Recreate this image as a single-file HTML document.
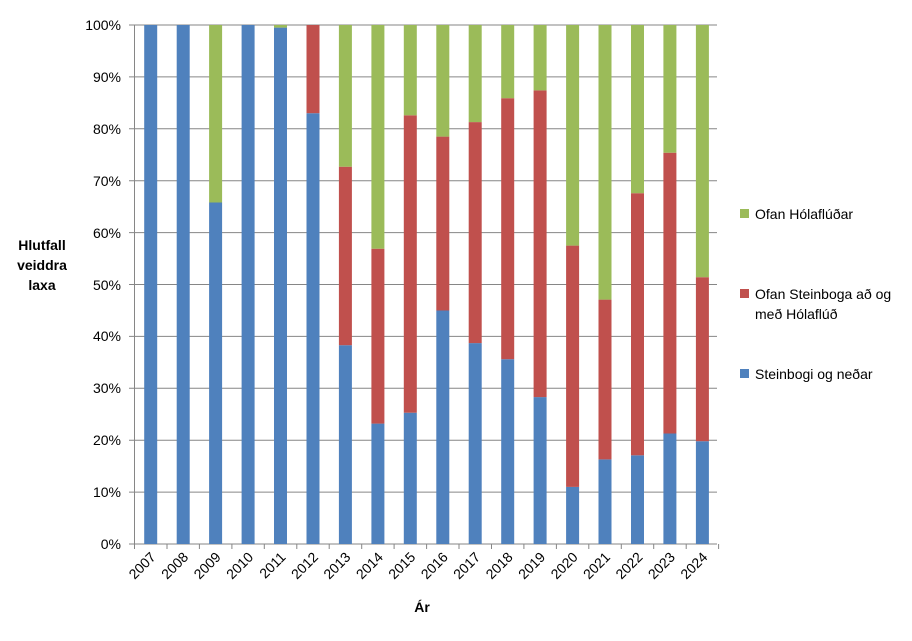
<!DOCTYPE html>
<html><head><meta charset="utf-8"><style>body{margin:0;background:#fff}svg text{font-family:"Liberation Sans",Calibri,sans-serif;fill:#000;font-size:14px}</style></head>
<body>
<svg width="912" height="636" xmlns="http://www.w3.org/2000/svg">
<g stroke="#868686" stroke-width="1">
<line x1="129" x2="717" y1="544" y2="544"/><line x1="129" x2="717" y1="492.1" y2="492.1"/><line x1="129" x2="717" y1="440.2" y2="440.2"/><line x1="129" x2="717" y1="388.3" y2="388.3"/><line x1="129" x2="717" y1="336.4" y2="336.4"/><line x1="129" x2="717" y1="284.5" y2="284.5"/><line x1="129" x2="717" y1="232.6" y2="232.6"/><line x1="129" x2="717" y1="180.7" y2="180.7"/><line x1="129" x2="717" y1="128.8" y2="128.8"/><line x1="129" x2="717" y1="76.9" y2="76.9"/><line x1="129" x2="717" y1="25" y2="25"/>
<line x1="134.5" x2="134.5" y1="25" y2="549"/>
</g>
<g text-anchor="end">
<text x="121" y="549">0%</text><text x="121" y="497">10%</text><text x="121" y="445">20%</text><text x="121" y="393">30%</text><text x="121" y="341">40%</text><text x="121" y="290">50%</text><text x="121" y="238">60%</text><text x="121" y="186">70%</text><text x="121" y="134">80%</text><text x="121" y="82">90%</text><text x="121" y="30">100%</text>
</g>
<g>
<rect x="144.2" y="25" width="13" height="519" fill="#4F81BD"/>
<rect x="176.7" y="25" width="13" height="519" fill="#4F81BD"/>
<rect x="209.1" y="202.5" width="13" height="341.5" fill="#4F81BD"/><rect x="209.1" y="25" width="13" height="177.5" fill="#9BBB59"/>
<rect x="241.6" y="25" width="13" height="519" fill="#4F81BD"/>
<rect x="274" y="27.6" width="13" height="516.4" fill="#4F81BD"/><rect x="274" y="25" width="13" height="2.6" fill="#9BBB59"/>
<rect x="306.5" y="113.2" width="13" height="430.8" fill="#4F81BD"/><rect x="306.5" y="25" width="13" height="88.2" fill="#C0504D"/>
<rect x="338.9" y="345.2" width="13" height="198.8" fill="#4F81BD"/><rect x="338.9" y="166.7" width="13" height="178.5" fill="#C0504D"/><rect x="338.9" y="25" width="13" height="141.7" fill="#9BBB59"/>
<rect x="371.4" y="423.6" width="13" height="120.4" fill="#4F81BD"/><rect x="371.4" y="248.7" width="13" height="174.9" fill="#C0504D"/><rect x="371.4" y="25" width="13" height="223.7" fill="#9BBB59"/>
<rect x="403.8" y="412.7" width="13" height="131.3" fill="#4F81BD"/><rect x="403.8" y="115.3" width="13" height="297.4" fill="#C0504D"/><rect x="403.8" y="25" width="13" height="90.3" fill="#9BBB59"/>
<rect x="436.3" y="310.5" width="13" height="233.5" fill="#4F81BD"/><rect x="436.3" y="136.6" width="13" height="173.9" fill="#C0504D"/><rect x="436.3" y="25" width="13" height="111.6" fill="#9BBB59"/>
<rect x="468.7" y="343.1" width="13" height="200.9" fill="#4F81BD"/><rect x="468.7" y="122.1" width="13" height="221" fill="#C0504D"/><rect x="468.7" y="25" width="13" height="97.1" fill="#9BBB59"/>
<rect x="501.2" y="359.2" width="13" height="184.8" fill="#4F81BD"/><rect x="501.2" y="98.2" width="13" height="261" fill="#C0504D"/><rect x="501.2" y="25" width="13" height="73.2" fill="#9BBB59"/>
<rect x="533.6" y="397.1" width="13" height="146.9" fill="#4F81BD"/><rect x="533.6" y="90.4" width="13" height="306.7" fill="#C0504D"/><rect x="533.6" y="25" width="13" height="65.4" fill="#9BBB59"/>
<rect x="566.1" y="486.9" width="13" height="57.1" fill="#4F81BD"/><rect x="566.1" y="245.6" width="13" height="241.3" fill="#C0504D"/><rect x="566.1" y="25" width="13" height="220.6" fill="#9BBB59"/>
<rect x="598.5" y="459.4" width="13" height="84.6" fill="#4F81BD"/><rect x="598.5" y="299.6" width="13" height="159.8" fill="#C0504D"/><rect x="598.5" y="25" width="13" height="274.6" fill="#9BBB59"/>
<rect x="631" y="455.3" width="13" height="88.7" fill="#4F81BD"/><rect x="631" y="193.2" width="13" height="262.1" fill="#C0504D"/><rect x="631" y="25" width="13" height="168.2" fill="#9BBB59"/>
<rect x="663.4" y="433.5" width="13" height="110.5" fill="#4F81BD"/><rect x="663.4" y="152.7" width="13" height="280.8" fill="#C0504D"/><rect x="663.4" y="25" width="13" height="127.7" fill="#9BBB59"/>
<rect x="695.9" y="441.2" width="13" height="102.8" fill="#4F81BD"/><rect x="695.9" y="277.2" width="13" height="164" fill="#C0504D"/><rect x="695.9" y="25" width="13" height="252.2" fill="#9BBB59"/>
</g>
<g stroke="#868686">
<line x1="167" x2="167" y1="544" y2="549"/><line x1="199.4" x2="199.4" y1="544" y2="549"/><line x1="231.9" x2="231.9" y1="544" y2="549"/><line x1="264.3" x2="264.3" y1="544" y2="549"/><line x1="296.8" x2="296.8" y1="544" y2="549"/><line x1="329.2" x2="329.2" y1="544" y2="549"/><line x1="361.7" x2="361.7" y1="544" y2="549"/><line x1="394.1" x2="394.1" y1="544" y2="549"/><line x1="426.6" x2="426.6" y1="544" y2="549"/><line x1="459" x2="459" y1="544" y2="549"/><line x1="491.5" x2="491.5" y1="544" y2="549"/><line x1="523.9" x2="523.9" y1="544" y2="549"/><line x1="556.4" x2="556.4" y1="544" y2="549"/><line x1="588.8" x2="588.8" y1="544" y2="549"/><line x1="621.3" x2="621.3" y1="544" y2="549"/><line x1="653.7" x2="653.7" y1="544" y2="549"/><line x1="686.2" x2="686.2" y1="544" y2="549"/><line x1="718.6" x2="718.6" y1="544" y2="549"/>
</g>
<g text-anchor="end">
<text transform="translate(156.7,558) rotate(-45)">2007</text>
<text transform="translate(189.2,558) rotate(-45)">2008</text>
<text transform="translate(221.6,558) rotate(-45)">2009</text>
<text transform="translate(254.1,558) rotate(-45)">2010</text>
<text transform="translate(286.5,558) rotate(-45)">2011</text>
<text transform="translate(319,558) rotate(-45)">2012</text>
<text transform="translate(351.4,558) rotate(-45)">2013</text>
<text transform="translate(383.9,558) rotate(-45)">2014</text>
<text transform="translate(416.3,558) rotate(-45)">2015</text>
<text transform="translate(448.8,558) rotate(-45)">2016</text>
<text transform="translate(481.2,558) rotate(-45)">2017</text>
<text transform="translate(513.7,558) rotate(-45)">2018</text>
<text transform="translate(546.1,558) rotate(-45)">2019</text>
<text transform="translate(578.6,558) rotate(-45)">2020</text>
<text transform="translate(611,558) rotate(-45)">2021</text>
<text transform="translate(643.5,558) rotate(-45)">2022</text>
<text transform="translate(675.9,558) rotate(-45)">2023</text>
<text transform="translate(708.4,558) rotate(-45)">2024</text>
</g>
<text x="422" y="612" font-weight="bold" text-anchor="middle">Ár</text>
<g font-weight="bold" text-anchor="middle"><text x="42" y="250">Hlutfall</text><text x="42" y="270">veiddra</text><text x="42" y="290">laxa</text></g>
<rect x="740" y="209" width="9" height="9" fill="#9BBB59"/><text x="755" y="219">Ofan Hólaflúðar</text>
<rect x="740" y="289" width="9" height="9" fill="#C0504D"/><text x="755" y="299">Ofan Steinboga að og</text><text x="755" y="319">með Hólaflúð</text>
<rect x="740" y="369" width="9" height="9" fill="#4F81BD"/><text x="755" y="379">Steinbogi og neðar</text>
</svg>
</body></html>
